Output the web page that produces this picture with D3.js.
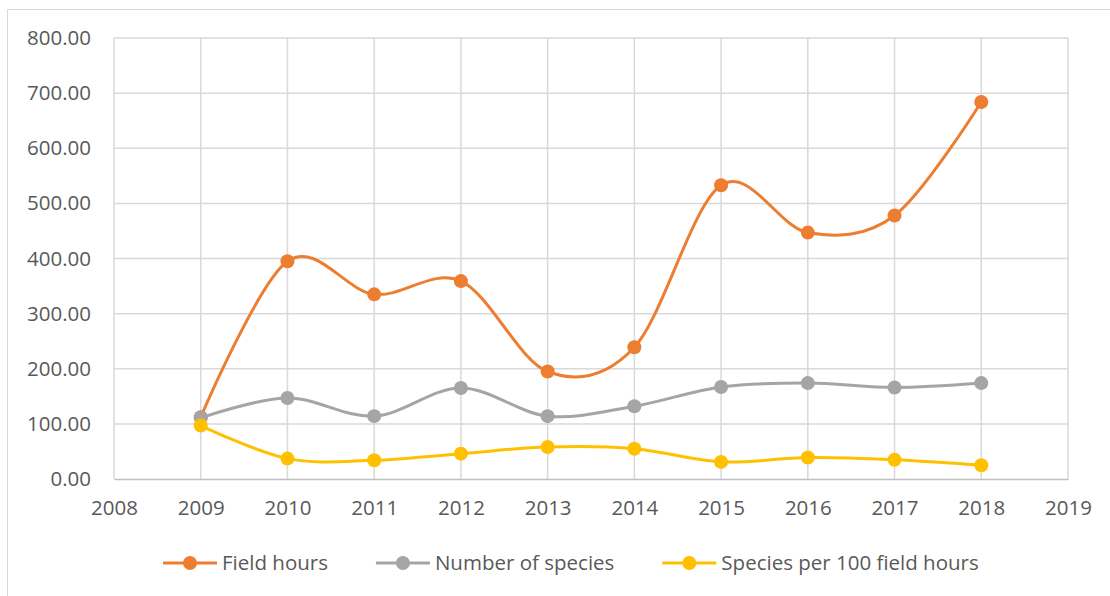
<!DOCTYPE html>
<html>
<head>
<meta charset="utf-8">
<script src="https://cdn.jsdelivr.net/npm/d3@7"></script>
<style>
  html, body { margin: 0; padding: 0; background: #fff; }
  svg { display: block; }
  text { font-family: "Open Sans", "Liberation Sans", sans-serif; fill: #595959; }
</style>
</head>
<body>
<svg id="chart" width="1110" height="596"></svg>
<script>
// Annual survey figures
const years = [2009, 2010, 2011, 2012, 2013, 2014, 2015, 2016, 2017, 2018];
const fieldHours = [112, 395, 335, 359, 195, 239, 533, 447, 478, 684];
const numberOfSpecies = [111, 147, 114, 165, 114, 132, 167, 174, 166, 174];
const speciesPer100Hours = [97, 37, 34, 46, 58, 55, 31, 39, 35, 25];

const xTicks = [2008, 2009, 2010, 2011, 2012, 2013, 2014, 2015, 2016, 2017, 2018, 2019];
const yTicks = [0, 100, 200, 300, 400, 500, 600, 700, 800];

const seriesNames = ["Field hours", "Number of species", "Species per 100 field hours"];
const seriesColors = ["#ED7D31", "#A5A5A5", "#FFC000"];
const seriesValues = [fieldHours, numberOfSpecies, speciesPer100Hours];

const svg = d3.select("#chart");

// outer chart frame
svg.append("rect")
  .attr("x", 7.5).attr("y", 9.5)
  .attr("width", 1200).attr("height", 700)
  .attr("fill", "none").attr("stroke", "#D9D9D9").attr("stroke-width", 1);

const plot = { left: 114, right: 1068, top: 38, bottom: 479 };

const x = d3.scaleLinear().domain([2008, 2019]).range([plot.left, plot.right]);
const y = d3.scaleLinear().domain([0, 800]).range([plot.bottom, plot.top]);

// gridlines
const grid = svg.append("g").attr("stroke", "#D9D9D9").attr("stroke-width", 1.5);
grid.selectAll("line.h").data(yTicks.slice(1)).join("line")
  .attr("class", "h")
  .attr("x1", plot.left).attr("x2", plot.right)
  .attr("y1", d => y(d)).attr("y2", d => y(d));
grid.selectAll("line.v").data(xTicks).join("line")
  .attr("class", "v")
  .attr("x1", d => x(d)).attr("x2", d => x(d))
  .attr("y1", plot.top).attr("y2", plot.bottom);

// y axis
const yAxis = svg.append("g")
  .attr("transform", `translate(${plot.left},0)`)
  .call(d3.axisLeft(y).tickValues(yTicks).tickFormat(d3.format(".2f")).tickSize(0).tickPadding(23));
yAxis.select(".domain").remove();
yAxis.selectAll("text").style("font-size", "20.5px").attr("fill", "#595959");

// x axis
const xAxis = svg.append("g")
  .attr("transform", `translate(0,${plot.bottom})`)
  .call(d3.axisBottom(x).tickValues(xTicks).tickFormat(d3.format("d")).tickSize(0).tickPadding(21));
xAxis.select(".domain").attr("stroke", "#BFBFBF").attr("stroke-width", 1.5);
xAxis.selectAll("text").style("font-size", "20.5px").attr("fill", "#595959");

// series lines and markers
const line = d3.line()
  .x((d, i) => x(years[i]))
  .y(d => y(d))
  .curve(d3.curveCardinal.tension(0));

seriesValues.forEach((vals, s) => {
  const g = svg.append("g");
  g.append("path")
    .datum(vals)
    .attr("d", line)
    .attr("fill", "none")
    .attr("stroke", seriesColors[s])
    .attr("stroke-width", 3)
    .attr("stroke-linecap", "round");
  g.selectAll("circle").data(vals).join("circle")
    .attr("cx", (d, i) => x(years[i]))
    .attr("cy", d => y(d))
    .attr("r", 7)
    .attr("fill", seriesColors[s]);
});

// legend
const legend = svg.append("g").attr("transform", "translate(163,563)");
let lx = 0;
seriesNames.forEach((name, s) => {
  const item = legend.append("g").attr("transform", `translate(${lx},0)`);
  item.append("line")
    .attr("x1", 0).attr("x2", 54).attr("y1", 0).attr("y2", 0)
    .attr("stroke", seriesColors[s]).attr("stroke-width", 3);
  item.append("circle").attr("cx", 27).attr("cy", 0).attr("r", 7).attr("fill", seriesColors[s]);
  const t = item.append("text")
    .attr("x", 59).attr("y", 0).attr("dy", "0.35em")
    .style("font-size", "20.5px")
    .text(name);
  lx += 59 + t.node().getComputedTextLength() + 48;
});
</script>
</body>
</html>
